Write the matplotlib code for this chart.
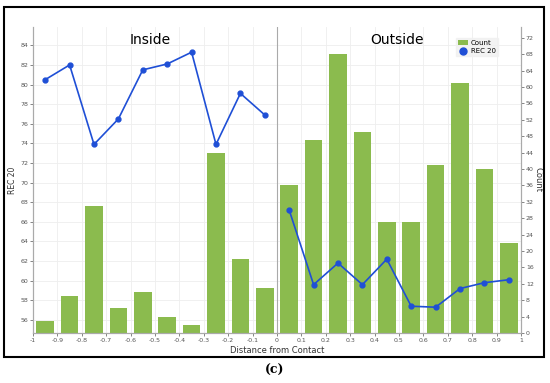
import numpy as np
import matplotlib.pyplot as plt
from matplotlib.patches import Rectangle
from matplotlib.lines import Line2D
from matplotlib.patches import Patch

# data
inside_x = [-0.95, -0.85, -0.75, -0.65, -0.55, -0.45, -0.35, -0.25, -0.15, -0.05]
outside_x = [0.05, 0.15, 0.25, 0.35, 0.45, 0.55, 0.65, 0.75, 0.85, 0.95]
inside_count = [3, 9, 31, 6, 10, 4, 2, 44, 18, 11]
outside_count = [36, 47, 68, 49, 27, 27, 41, 61, 40, 22]
inside_rec = [80.5, 82.0, 73.9, 76.5, 81.5, 82.1, 83.3, 73.9, 79.1, 76.9]
outside_rec = [67.2, 59.6, 61.8, 59.6, 62.2, 57.4, 57.3, 59.2, 59.8, 60.1]

bar_color = '#8bbb4e'
line_color = '#1f4fd6'
tick_kw = dict(labelsize=4.5, colors='#555555', length=2, width=0.5, pad=1.5)
rec_lim = (54.67, 85.9)
cnt_lim = (0, 74.7)

fig = plt.figure(figsize=(5.5, 3.83), dpi=100)

# outer frame
fig.patches.append(Rectangle((4 / 550, 1 - 357 / 383), 540 / 550, 350 / 383,
                             transform=fig.transFigure, fill=False,
                             edgecolor='black', linewidth=1.5))

ax = fig.add_axes([33 / 550, 1 - 333 / 383, 488 / 550, 306.3 / 383])
ax2 = ax.twinx()

# line axes (REC) drawn above the bar axes (Count)
ax.set_zorder(ax2.get_zorder() + 1)
ax.patch.set_visible(False)

ax2.bar(inside_x + outside_x, inside_count + outside_count, width=0.072,
        color=bar_color, zorder=2)
ax2.set_ylim(*cnt_lim)
ax2.set_yticks(np.arange(0, 73, 4))

ax.plot(inside_x, inside_rec, '-o', color=line_color, lw=1.2, ms=3.5)
ax.plot(outside_x, outside_rec, '-o', color=line_color, lw=1.2, ms=3.5)
ax.set_xlim(-1, 1)
ax.set_ylim(*rec_lim)
rec_ticks = np.arange(56, 85, 2)
ax.set_yticks(rec_ticks)
xt = np.round(np.arange(-1, 1.01, 0.1), 1)
ax.set_xticks(xt)
ax.set_xticklabels(['0' if v == 0 else ('%g' % v) for v in xt])

# grid behind the bars: vertical at x ticks, horizontal at REC ticks
for v in xt:
    ax2.axvline(v, color='#eeeeee', lw=0.6, zorder=0)
for r in rec_ticks:
    c = (r - rec_lim[0]) / (rec_lim[1] - rec_lim[0]) * cnt_lim[1]
    ax2.axhline(c, color='#eeeeee', lw=0.6, zorder=0)

ax.axvline(0, color='#aaaaaa', lw=0.8, zorder=1)

for a in (ax, ax2):
    a.tick_params(**tick_kw)
    for s in a.spines.values():
        s.set_color('#aaaaaa')
        s.set_linewidth(0.8)
    a.spines['top'].set_visible(False)

ax.set_ylabel('REC 20', fontsize=5.5, color='#333333')
ax.yaxis.set_label_coords(-0.033, 0.5)
ax2.set_ylabel('Count', fontsize=6, color='#333333', rotation=270,
               va='center')
ax2.yaxis.set_label_coords(1.035, 0.5)
ax.set_xlabel('Distance from Contact', fontsize=6, color='#333333')
ax.xaxis.set_label_coords(0.5, -0.042)

ax.text(-0.52, 84.5, 'Inside', fontsize=10, ha='center', va='center')
ax.text(0.49, 84.5, 'Outside', fontsize=10, ha='center', va='center')

handles = [Patch(facecolor=bar_color, label='Count'),
           Line2D([0], [0], marker='o', color=line_color, lw=0, ms=5, label='REC 20')]
leg = ax.legend(handles=handles, loc='upper right', bbox_to_anchor=(0.96, 0.975),
                fontsize=5, frameon=True, fancybox=False, handlelength=1.5,
                handletextpad=0.4, borderpad=0.3, labelspacing=0.3)
leg.get_frame().set_facecolor('#f0f0f0')
leg.get_frame().set_edgecolor('#f0f0f0')

fig.text(0.5, 1 - 370 / 383, '(c)', fontsize=9, fontweight='bold',
         family='DejaVu Serif', ha='center', va='center')

fig.savefig('out.png', dpi=100)
